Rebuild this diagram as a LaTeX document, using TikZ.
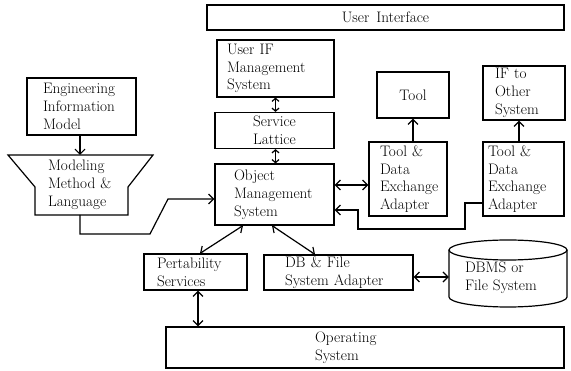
\documentclass[tikz,border=0pt]{standalone}
\usepackage{fontspec}
\usetikzlibrary{arrows.meta}
\newcommand\dgfont{\fontsize{15.2}{17.8}\selectfont\addfontfeatures{FakeBold=0.6}\spaceskip=0.45em plus 0.1em\relax}
\begin{document}
\begin{tikzpicture}[x=1pt,y=-1pt,
  bx/.style={draw, line width=1.2pt, inner xsep=0pt, inner ysep=0pt, font=\dgfont},
  tx/.style={inner xsep=0pt, inner ysep=0pt, font=\dgfont},
  conn/.style={line width=1.2pt, >={Straight Barb[length=5pt,width=10pt]}},
  small/.style={line width=1.2pt, >={Straight Barb[length=3pt,width=7pt]}},
  ln/.style={line width=1.2pt}]
\useasboundingbox (0,0) rectangle (571,371);

% boxes
\node[bx, minimum width=357pt, minimum height=25pt] (ui) at (385.5,17.5) {User Interface};
\node[bx, minimum width=117pt, minimum height=57pt, text width=97pt, align=left] (uifm) at (275.5,68.5) {User IF\\Management\\System};
\node[bx, minimum width=119pt, minimum height=36pt, align=center] (sl) at (274.5,130.5) {Service\\Lattice};
\node[bx, minimum width=119pt, minimum height=61pt, text width=81pt, align=left] (oms) at (274.5,194.5) {Object\\Management\\System};
\node[bx, minimum width=72pt, minimum height=46pt] (tool) at (413,95) {Tool};
\node[bx, minimum width=78pt, minimum height=74pt, text width=56pt, align=left] (td1) at (408,179) {Tool \&\\Data\\Exchange\\Adapter};
\node[bx, minimum width=82pt, minimum height=54pt, text width=58pt, align=left] (ifo) at (524,93) {IF to\\Other\\System};
\node[bx, minimum width=81pt, minimum height=74pt, text width=71pt, align=left] (td2) at (523.5,179) {Tool \&\\Data\\Exchange\\Adapter};
\node[bx, minimum width=109pt, minimum height=57pt, text width=77pt, align=left] (eim) at (81.5,106.5) {Engineering\\Information\\Model};
\node[bx, minimum width=103pt, minimum height=36pt, text width=77pt, align=left] (ps) at (195.5,272) {Pertability\\Services};
\node[bx, minimum width=149pt, minimum height=35pt, text width=107pt, align=left] (db) at (338.5,272.5) {DB \& File\\System Adapter};
\node[bx, minimum width=398pt, minimum height=41pt, text width=100pt, align=left] (os) at (365,347.5) {Operating\\System};

% trapezoid
\draw[ln] (8,155) -- (153,155) -- (128,187) -- (128,215) -- (35,215) -- (35,187) -- cycle;
\node[tx, text width=64pt, align=left] (mml) at (80,185) {Modeling\\Method \&\\Language};
\coordinate (mtop) at (80,155);
\coordinate (mbot) at (80,215);

% cylinder
\draw[ln] (508,250) ellipse [x radius=59pt, y radius=10pt];
\draw[ln] (449,250) -- (449,297) arc[start angle=180, end angle=360, x radius=59pt, y radius=10pt] -- (567,250);
\node[tx, minimum width=118pt, minimum height=67pt, text width=86pt, align=left] (dbms) at (508,278) {DBMS or\\File System};

% connectors
\draw[small,<->] (uifm.south) -- (uifm.south |- sl.north);
\draw[small,<->] ([xshift=1pt]sl.south) -- ([xshift=1pt]sl.south |- oms.north);
\draw[conn,->] (mtop |- eim.south) -- (mtop);
\draw[conn,->] (mbot) -- (80,234) -- (150,234) -- (168,199) -- ([yshift=-4.5pt]oms.west);
\draw[conn,->] (tool.south |- td1.north) -- (tool.south);
\draw[conn,->] ([xshift=-5pt]ifo.south |- td2.north) -- ([xshift=-5pt]ifo.south);
\draw[conn,<->] ([yshift=9.5pt]oms.east) -- ([yshift=9.5pt]oms.east -| td1.west);
\draw[conn,->] ([yshift=-24pt]td2.west) -- (465,203) -- (465,229) -- (358,229) -- (358,210) -- ([yshift=-15.5pt]oms.east);
\draw[conn,<->] ([xshift=-31.5pt]oms.south) -- ([xshift=4.5pt]ps.north);
\draw[conn,<->] ([xshift=-2.5pt]oms.south) -- ([xshift=-23.5pt]db.north);
\draw[conn,<->] ([xshift=2.5pt]ps.south) -- ([xshift=2.5pt]ps.south |- os.north);
\draw[conn,<->] ([yshift=-4.5pt]db.east) -- ([yshift=-4.5pt]db.east -| dbms.west);
\end{tikzpicture}
\end{document}
